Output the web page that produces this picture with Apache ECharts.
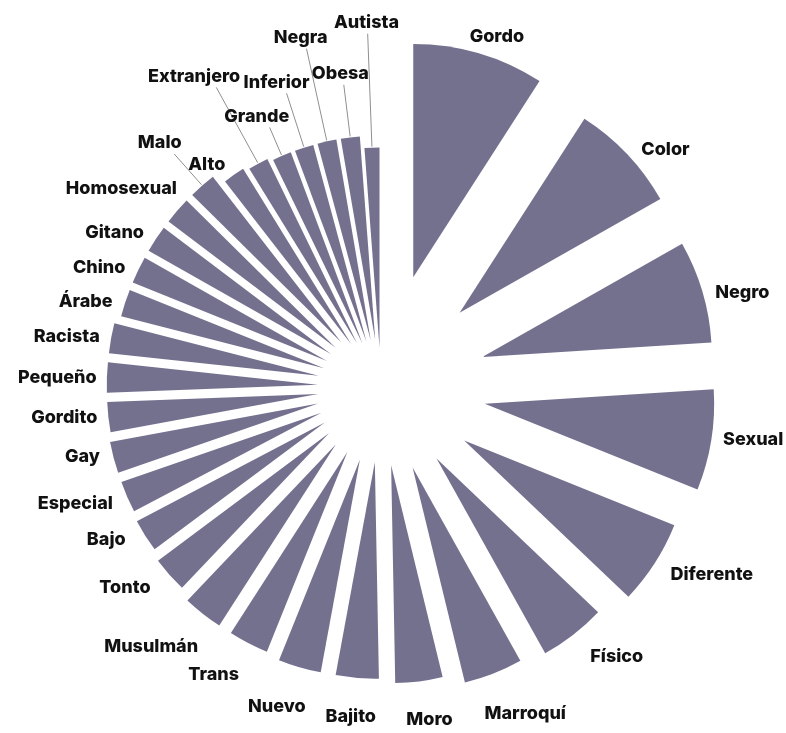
<!DOCTYPE html>
<html>
<head>
<meta charset="utf-8">
<script src="https://cdn.jsdelivr.net/npm/echarts@6/dist/echarts.min.js"></script>
<style>
  html, body { margin: 0; padding: 0; background: #fff; }
  #chart { width: 786px; height: 733px; }
</style>
</head>
<body>
<div id="chart"></div>
<script>
// palabras, en el sentido de las agujas del reloj desde arriba
const categories = [
  'Gordo', 'Color', 'Negro', 'Sexual', 'Diferente', 'Físico', 'Marroquí', 'Moro',
  'Bajito', 'Nuevo', 'Trans', 'Musulmán', 'Tonto', 'Bajo', 'Especial', 'Gay',
  'Gordito', 'Pequeño', 'Racista', 'Árabe', 'Chino', 'Gitano', 'Homosexual', 'Malo',
  'Alto', 'Extranjero', 'Grande', 'Inferior', 'Negra', 'Obesa', 'Autista'
]
// porcentaje de cada palabra
const values = [
  9.1, 7.7, 7.2, 7.1, 6.0, 4.8, 4.3, 3.5,
  3.2, 3.2, 3.0, 3.0, 2.7, 2.5, 2.4, 2.4,
  2.3, 2.3, 2.3, 2.1, 2.1, 2.1, 2.1, 2.1,
  1.7, 1.6, 1.5, 1.5, 1.5, 1.5, 1.2
]

// etiquetas con línea guía: largo de la línea (px)
const leaderLen = { Autista: 114, Obesa: 53, Negra: 95, Inferior: 57, Grande: 31, Extranjero: 87, Malo: 42 }

const FONT_SIZE = 18
const FONT_WEIGHT = 800
const FONT_FAMILY = 'Inter, "Noto Sans", sans-serif'
const ctx = document.createElement('canvas').getContext('2d')
ctx.font = FONT_WEIGHT + ' ' + FONT_SIZE + 'px ' + FONT_FAMILY
function textWidth (s) {
  return ctx.measureText(s).width
}

let acc = 0
const seriesData = categories.map((name, i) => {
  const start = acc
  acc += values[i]
  return { name: name, value: [values[i], start, acc] }
})

function renderItem (params, api) {
  const name = categories[params.dataIndex]
  const v = api.value(0)
  const cx = params.coordSys.cx
  const cy = params.coordSys.cy
  const p0 = api.coord([v, api.value(1)])
  const p1 = api.coord([v, api.value(2)])
  const R = p0[2]
  const a0 = -p0[3]
  const a1 = -p1[3]
  const mid = (a0 + a1) / 2
  const bx = Math.cos(mid)
  const by = Math.sin(mid)
  // cada sector se separa del centro
  const shift = R * 0.694 - 127
  const children = [{
    type: 'sector',
    shape: {
      cx: cx + shift * bx,
      cy: cy + shift * by,
      r0: 0,
      r: R - shift,
      startAngle: a0,
      endAngle: a1,
      clockwise: true,
    },
    style: { fill: '#74718f' },
  }]
  const textStyle = {
    text: name,
    fill: '#111',
    fontSize: FONT_SIZE,
    fontWeight: FONT_WEIGHT,
    fontFamily: FONT_FAMILY,
  }
  const w = textWidth(name)
  const h = FONT_SIZE
  if (leaderLen[name]) {
    const L = R + leaderLen[name]
    const ex = cx + L * bx
    const ey = cy + L * by
    children.push({
      type: 'line',
      shape: { x1: cx + (R + 1) * bx, y1: cy + (R + 1) * by, x2: ex, y2: ey },
      style: { stroke: '#8f8f8f', lineWidth: 1 },
    })
    children.push({
      type: 'text',
      x: ex + bx * w / 2,
      y: ey - 2,
      style: Object.assign({ align: 'center', verticalAlign: 'bottom' }, textStyle),
    })
  } else {
    // la etiqueta se acerca un poco a la horizontal
    const beta = mid + Math.PI / 2
    const lm = mid + 3.5 * Math.PI / 180 * Math.sin(2 * beta)
    const lx = Math.cos(lm)
    const ly = Math.sin(lm)
    const ext = (Math.abs(lx) * w + Math.abs(ly) * h) / 2
    const down = Math.max(0, ly)
    const up = Math.max(0, -ly)
    const gap = 10 + 18 * down * down - 6 * up * up
    const dist = R + gap + ext
    children.push({
      type: 'text',
      x: cx + dist * lx,
      y: cy + dist * ly,
      style: Object.assign({ align: 'center', verticalAlign: 'middle' }, textStyle),
    })
  }
  return { type: 'group', children: children }
}

const myChart = echarts.init(document.getElementById('chart'))
const option = {
  animation: false,
  polar: {
    center: [381, 387],
    radius: [229.8, 352.8],
  },
  angleAxis: {
    type: 'value',
    min: 0,
    max: 100,
    startAngle: 90,
    clockwise: true,
    show: false,
  },
  radiusAxis: {
    type: 'log',
    logBase: 10,
    min: 1,
    max: 10,
    show: false,
  },
  series: [
    {
      type: 'custom',
      coordinateSystem: 'polar',
      encode: { radius: 0, angle: 1 },
      renderItem: renderItem,
      data: seriesData,
    },
  ],
}
myChart.setOption(option)
window.onresize = myChart.resize
</script>
</body>
</html>
